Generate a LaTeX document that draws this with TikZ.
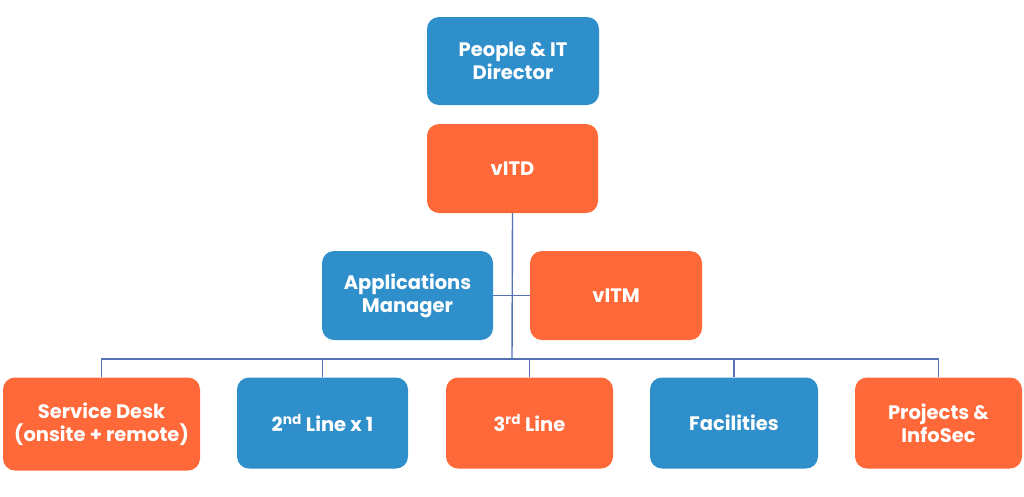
\documentclass[tikz,border=0pt]{standalone}
\usepackage{fontspec}
\setmainfont{Poppins}
\definecolor{boxblue}{HTML}{2E8FCB}
\definecolor{boxorange}{HTML}{FF6838}
\definecolor{linkcol}{HTML}{5570B4}
\begin{document}
\begin{tikzpicture}[x=1pt,y=-1pt,
  card/.style={rounded corners=12pt, text=white, align=center, inner sep=0pt,
    font=\fontsize{19.5}{23}\selectfont\bfseries, minimum height=90pt},
  bluecard/.style={card, fill=boxblue},
  orangecard/.style={card, fill=boxorange},
  link/.style={draw=linkcol, line width=1.4pt}]
\useasboundingbox (0,0) rectangle (1024,496);
\node[bluecard, minimum width=172pt, minimum height=88pt] (pid) at (513,61) {People \& IT\\Director};
\node[orangecard, minimum width=171pt, minimum height=89pt] (vitd) at (512.5,168.5) {vITD};
\node[bluecard, minimum width=171pt, minimum height=89pt] (app) at (407.5,295.5) {Applications\\Manager};
\node[orangecard, minimum width=172pt, minimum height=89pt] (vitm) at (616,295.5) {vITM};
\node[orangecard, minimum width=197pt, minimum height=93pt] (sd) at (101.5,424) {Service Desk\\(onsite + remote)};
\node[bluecard, minimum width=171pt, minimum height=91pt] (l2) at (322.5,423) {2\textsuperscript{nd} Line x 1};
\node[orangecard, minimum width=167pt, minimum height=91pt] (l3) at (529.5,423) {3\textsuperscript{rd} Line};
\node[bluecard, minimum width=168pt, minimum height=91pt] (fac) at (734,423) {Facilities};
\node[orangecard, minimum width=167pt, minimum height=91pt] (proj) at (938.5,423) {Projects \&\\InfoSec};
\coordinate (hub) at (512,359);
\path[link] (vitd.south) -- (hub);
\path[link] (app.east) -- (vitm.west);
\path[link] (sd.north) |- (hub) -| (proj.north);
\path[link] (l2.north) -- (l2.north |- hub);
\path[link] (l3.north) -- (l3.north |- hub);
\path[link] (fac.north) -- (fac.north |- hub);
\end{tikzpicture}
\end{document}
